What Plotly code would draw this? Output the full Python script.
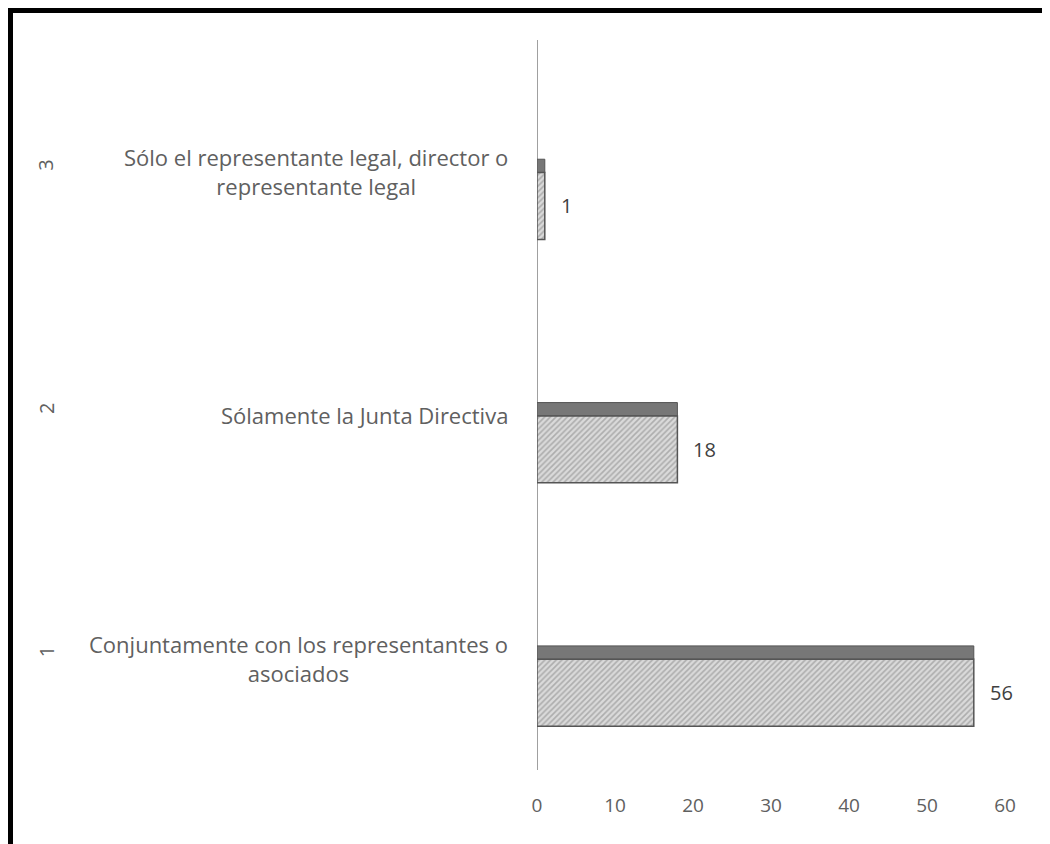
import plotly.graph_objects as go

# data
cat_num = [1, 2, 3]
cat_text = ["Conjuntamente con los representantes o<br>asociados",
            "Sólamente la Junta Directiva",
            "Sólo el representante legal, director o<br>representante legal"]
values = [56, 18, 1]
x_ticks = [0, 10, 20, 30, 40, 50, 60]

# page body has an 8px margin, so the figure is sized to the visible area
W, H = 1042, 836
ML, MR, MT, MB = 529, 45, 32, 74
pw = W - ML - MR
ph = H - MT - MB
FONT = "Open Sans"

fig = go.Figure()

# dark "top face" of the 3D bars
fig.add_trace(go.Bar(
    y=cat_num, x=values, orientation="h",
    offset=-0.045, width=0.055,
    marker=dict(color="#777777", line=dict(color="#555555", width=1)),
    hoverinfo="skip", showlegend=False,
))

# front face, hatched
fig.add_trace(go.Bar(
    y=cat_num, x=values, orientation="h",
    offset=-0.32, width=0.275,
    marker=dict(color="white",
                pattern=dict(shape="/", fgcolor="#7f7f7f", bgcolor="#dadada",
                             size=4, solidity=0.4),
                line=dict(color="#555555", width=1.5)),
    showlegend=False,
))

for c, t, v in zip(cat_num, cat_text, values):
    # category text labels (centered lines)
    fig.add_annotation(x=0, xref="paper", y=c, yref="y", text=t,
                       xanchor="right", yanchor="middle", align="center",
                       xshift=-27, yshift=-10, showarrow=False,
                       font=dict(size=22, color="#606060", family=FONT))
    # outer level: rotated category number
    fig.add_annotation(x=0, xref="paper", y=c, yref="y", text=str(c),
                       textangle=-90, xanchor="center", yanchor="middle",
                       xshift=-(ML - 38), yshift=-4, showarrow=False,
                       font=dict(size=20, color="#606060", family=FONT))
    # value labels
    fig.add_annotation(x=v, xref="x", y=c, yref="y", text=str(v),
                       xanchor="left", yanchor="middle",
                       xshift=14, yshift=-44, showarrow=False,
                       font=dict(size=20, color="#404040", family=FONT))

# black frame around the picture
fig.add_shape(type="rect", xref="paper", yref="paper",
              x0=(2 - ML) / pw, x1=(1038 - ML) / pw,
              y0=(H - MB - 842) / ph, y1=(H - MB - 2) / ph,
              line=dict(color="black", width=6))

fig.update_layout(
    width=W, height=H,
    margin=dict(l=ML, r=MR, t=MT, b=MB),
    paper_bgcolor="white", plot_bgcolor="white",
    barmode="overlay",
    font=dict(family=FONT, color="#606060"),
    xaxis=dict(range=[0, 60], tickvals=x_ticks, showgrid=False, zeroline=False,
               showline=False, ticks="", tickfont=dict(size=19, color="#606060"),
               ticklabelstandoff=22),
    yaxis=dict(range=[0.5, 3.5], showgrid=False, zeroline=False, showticklabels=False,
               showline=False, ticks=""),
)

# thin vertical axis line at 0
fig.add_shape(type="line", xref="x", yref="paper", x0=0, x1=0, y0=0, y1=1,
              line=dict(color="#a0a0a0", width=2), layer="below")

fig.write_html("out.html")
